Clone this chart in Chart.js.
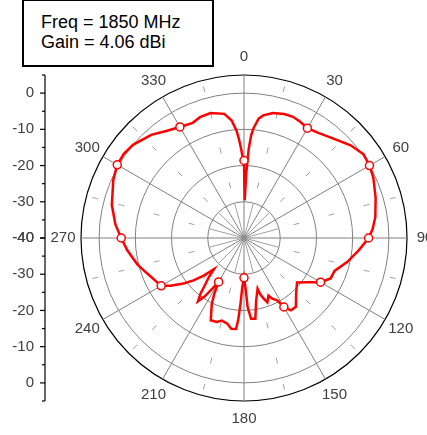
<!DOCTYPE html>
<html>
<head>
<meta charset="utf-8">
<script src="https://cdn.jsdelivr.net/npm/chart.js@4.4.0/dist/chart.umd.min.js"></script>
<style>
    html, body { margin: 0; padding: 0; background: #fff; }
    #wrap { position: relative; width: 427px; height: 435px; overflow: hidden; }
    #patternChart { position: absolute; left: 0; top: 0; }
    #infoBox {
        position: absolute; left: 22px; top: -1px; width: 192px; height: 68px;
        box-sizing: border-box; border: 2px solid #000; background: #fff;
        padding: 11px 0 0 17px;
        font: 18px "Liberation Sans", Arial, sans-serif; line-height: 20px; color: #000;
    }
</style>
</head>
<body>
<div id="wrap">
    <canvas id="patternChart" width="427" height="435"></canvas>
    <div id="infoBox">Freq = 1850 MHz<br>Gain = 4.06 dBi</div>
</div>
<script>
// measured pattern, angle in degrees (0 = top, clockwise) and gain in dB
var angleDeg = [0, 1, 2, 3, 4, 5, 7, 9, 13, 18, 22, 26, 30, 35, 42, 49, 55, 60, 65, 73, 81, 86,
    90, 96, 103, 110, 115, 120, 125, 130, 137, 143, 147, 150, 152, 155, 157, 160, 162, 164, 165,
    169, 172, 175, 177, 178, 180, 182, 183, 184, 185, 188, 191, 195, 198, 202, 206, 208, 210,
    212, 214, 216, 218, 220, 222, 224, 227, 230, 233, 237, 240, 250, 256, 264, 270, 276, 284,
    294, 300, 305, 310, 318, 324, 330, 336, 340, 345, 351, 354, 356, 357, 358, 359];
var gainDb = [-18.6, -29.6, -22, -15.5, -11.5, -9.5, -6.8, -5.7, -4.6, -4.0, -3.9, -4.4, -5.0, -4.5, -3.1, -1.0, 0.3, 0.0, -0.6, -2.0, -3.3, -4.4,
    -5.6, -8.1, -10.7, -13.4, -13.6, -15.6, -18.7, -20.9, -18.9, -16.2, -16.2, -18.0, -20.5, -21.5, -22.7, -21.1, -22.4, -23.9, -25.5,
    -22.4, -17.5, -17.6, -20.9, -25.5, -29.0, -26.4, -22.0, -17.5, -14.8, -14.7, -15.9, -16.4, -15.6, -15.5, -19.7, -22.5, -26.0,
    -23.5, -20.5, -18.4, -20.5, -23.5, -25.5, -28.1, -24.8, -21.8, -19.1, -15.8, -13.6, -11.5, -9.7, -7.6, -6.1, -4.3, -2.4,
    -0.5, 0.4, 0.5, 0.0, -1.7, -3.5, -4.6, -5.2, -4.5, -4.3, -5.3, -7.4, -10.3, -12.5, -15.0, -17.5];

var angleTicks = [0, 30, 60, 90, 120, 150, 180, 210, 240, 270, 300, 330];
var ringValues = [-40, -30, -20, -10, 0, 5];
var sideTicks = [0, -10, -20, -30, -40];
var sideMinorTicks = [5, -5, -15, -25, -35];
var rMin = -40;
var rMax = 5;

var labelFont = '15px "Liberation Sans", Arial, sans-serif';
var labelColor = "#404040";

// one slot per degree, gaps where nothing was read
var labels = [];
var pattern = [];
for (var a = 0; a < 360; a++) {
    labels.push(String(a));
    pattern.push(null);
}
for (var i = 0; i < angleDeg.length; i++) {
    pattern[angleDeg[i]] = gainDb[i];
}

// minor spokes: solid inside the first ring, then a short dash in the middle of each band
function minorDash(chart) {
    var s = chart.scales.r;
    var d = function (v) { return s.getDistanceFromCenterForValue(v); };
    var dash = [d(-30), 0];
    var pos = d(-30);
    for (var k = 1; k < ringValues.length - 1; k++) {
        var mid = (d(ringValues[k]) + d(ringValues[k + 1])) / 2;
        dash[dash.length - 1] = mid - 3 - pos;
        dash.push(6, 0);
        pos = mid + 3;
    }
    dash[dash.length - 1] = 400;
    return dash;
}

var polarExtras = {
    id: "polarExtras",
    afterDraw: function (chart) {
        var s = chart.scales.r;
        var ctx = chart.ctx;
        ctx.save();
        // angle labels
        ctx.font = labelFont;
        ctx.fillStyle = labelColor;
        ctx.textAlign = "center";
        ctx.textBaseline = "middle";
        for (var t of angleTicks) {
            var p = s.getPointPosition(t, s.drawingArea + 18);
            ctx.fillText(String(t), p.x, p.y);
        }
        // left dB axis, mirrored around the centre
        var x = 45;
        var top = s.yCenter - s.getDistanceFromCenterForValue(rMax);
        var bottom = s.yCenter + s.getDistanceFromCenterForValue(rMax);
        ctx.strokeStyle = "#000";
        ctx.lineWidth = 1.2;
        ctx.beginPath();
        ctx.moveTo(x, top);
        ctx.lineTo(x, bottom);
        ctx.stroke();
        ctx.textAlign = "right";
        for (var side of [-1, 1]) {
            for (var v of sideTicks) {
                var y = s.yCenter + side * s.getDistanceFromCenterForValue(v);
                ctx.beginPath();
                ctx.moveTo(x - 5, y);
                ctx.lineTo(x, y);
                ctx.stroke();
                ctx.fillText(String(v), x - 11, y);
            }
            for (var m of sideMinorTicks) {
                var ym = s.yCenter + side * s.getDistanceFromCenterForValue(m);
                ctx.beginPath();
                ctx.moveTo(x - 3, ym);
                ctx.lineTo(x, ym);
                ctx.stroke();
            }
        }
        ctx.restore();
    },
};

new Chart("patternChart", {
    type: "radar",
    data: {
        labels: labels,
        datasets: [{
            data: pattern,
            spanGaps: true,
            fill: false,
            borderColor: "#ff0000",
            borderWidth: 2.5,
            tension: 0,
            pointRadius: function (c) { return c.dataIndex % 30 === 0 ? 4 : 0; },
            pointBackgroundColor: "#ffffff",
            pointBorderColor: "#ff0000",
            pointBorderWidth: 1.5,
        }],
    },
    options: {
        responsive: false,
        animation: false,
        events: [],
        layout: { padding: { left: 81, right: 20, top: 75, bottom: 34 } },
        plugins: { legend: { display: false }, tooltip: { enabled: false } },
        scales: {
            r: {
                min: rMin,
                max: rMax,
                afterBuildTicks: function (scale) {
                    scale.ticks = ringValues.map(function (v) { return { value: v }; });
                },
                ticks: { display: false },
                pointLabels: { display: false },
                grid: {
                    circular: true,
                    color: function (c) { return c.tick && c.tick.value === rMax ? "#000000" : "#808080"; },
                    lineWidth: function (c) { return c.tick && c.tick.value === rMax ? 1.2 : 1; },
                },
                angleLines: {
                    color: function (c) { return c.index % 30 === 0 ? "#808080" : "#a0a0a0"; },
                    lineWidth: function (c) { return c.index % 15 === 0 ? 1 : 0; },
                    borderDash: function (c) { return c.index % 30 === 0 ? [] : minorDash(c.chart); },
                },
            },
        },
    },
    plugins: [polarExtras],
});
</script>
</body>
</html>
